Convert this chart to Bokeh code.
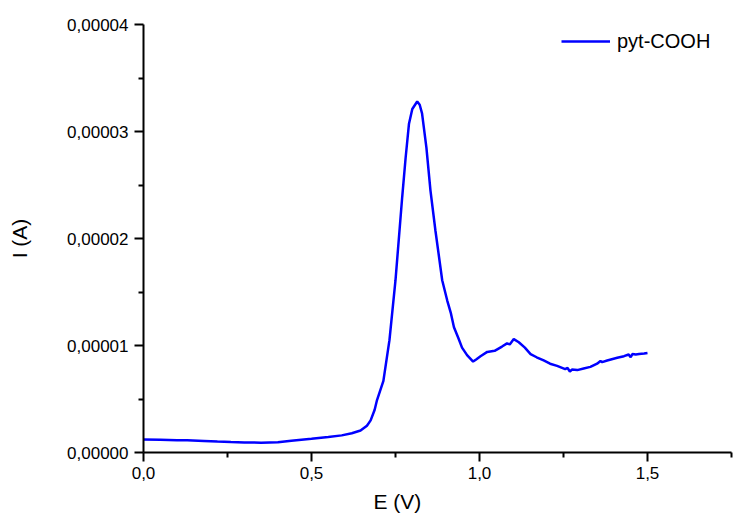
from bokeh.plotting import figure
from bokeh.models import (Range1d, FixedTicker, CustomJSTickFormatter, Legend, LegendItem, Title)
from bokeh.embed import file_html
from bokeh.resources import INLINE

# ---- data ----
E_V = [0.0, 0.05, 0.10, 0.13, 0.18, 0.22, 0.26, 0.30, 0.35, 0.40, 0.44, 0.50, 0.55, 0.59,
       0.62, 0.646, 0.665, 0.676, 0.688, 0.695, 0.714, 0.732, 0.75, 0.76, 0.77, 0.78, 0.79,
       0.80, 0.8146, 0.822, 0.829, 0.842, 0.854, 0.869, 0.889, 0.904, 0.915, 0.924, 0.937,
       0.948, 0.963, 0.972, 0.981, 0.99, 1.003, 1.023, 1.045, 1.067, 1.082, 1.09, 1.102,
       1.117, 1.135, 1.152, 1.17, 1.191, 1.21, 1.231, 1.255, 1.262, 1.269, 1.275, 1.291,
       1.31, 1.33, 1.35, 1.36, 1.365, 1.38, 1.41, 1.43, 1.444, 1.45, 1.455, 1.465, 1.475,
       1.49, 1.5]
I_A = [1.21e-6, 1.18e-6, 1.15e-6, 1.15e-6, 1.08e-6, 1.02e-6, 0.97e-6, 0.93e-6, 0.92e-6,
       0.95e-6, 1.10e-6, 1.28e-6, 1.45e-6, 1.60e-6, 1.80e-6, 2.05e-6, 2.50e-6, 3.00e-6,
       4.00e-6, 4.90e-6, 6.70e-6, 1.05e-5, 1.61e-5, 2.00e-5, 2.39e-5, 2.75e-5, 3.07e-5,
       3.21e-5, 3.28e-5, 3.25e-5, 3.17e-5, 2.85e-5, 2.45e-5, 2.07e-5, 1.61e-5, 1.42e-5,
       1.30e-5, 1.17e-5, 1.07e-5, 0.98e-5, 0.91e-5, 0.88e-5, 0.85e-5, 0.87e-5, 0.90e-5,
       0.94e-5, 0.95e-5, 0.99e-5, 1.02e-5, 1.01e-5, 1.06e-5, 1.03e-5, 0.98e-5, 0.92e-5,
       0.89e-5, 0.86e-5, 0.83e-5, 0.81e-5, 0.78e-5, 0.79e-5, 0.757e-5, 0.775e-5, 0.77e-5,
       0.785e-5, 0.80e-5, 0.83e-5, 0.855e-5, 0.845e-5, 0.86e-5, 0.885e-5, 0.90e-5, 0.916e-5,
       0.89e-5, 0.92e-5, 0.915e-5, 0.92e-5, 0.925e-5, 0.93e-5]

x_ticks = [0.0, 0.5, 1.0, 1.5]
x_minor = [0.25, 0.75, 1.25, 1.75]
y_ticks = [0.0, 1e-5, 2e-5, 3e-5, 4e-5]
y_minor = [0.5e-5, 1.5e-5, 2.5e-5, 3.5e-5]
series_name = "pyt-COOH"
x_title = "E (V)"
y_title = "I (A)"

FONT = "Liberation Sans"

p = figure(width=733, height=522, output_backend="svg", toolbar_location=None,
           x_range=Range1d(0, 1.75), y_range=Range1d(0, 4e-5),
           min_border_left=143, min_border_right=2, min_border_top=24, min_border_bottom=70)
p.outline_line_color = None
p.grid.visible = False
p.background_fill_color = "white"
p.border_fill_color = "white"

r = p.line(E_V, I_A, line_color="#0000FF", line_width=2.5)

p.xaxis.ticker = FixedTicker(ticks=x_ticks, minor_ticks=x_minor)
p.yaxis.ticker = FixedTicker(ticks=y_ticks, minor_ticks=y_minor)
p.xaxis.formatter = CustomJSTickFormatter(code="return tick.toFixed(1).replace('.', ',');")
p.yaxis.formatter = CustomJSTickFormatter(code="return tick.toFixed(5).replace('.', ',');")

for ax in (p.xaxis[0], p.yaxis[0]):
    ax.axis_line_width = 2
    ax.axis_line_color = "black"
    ax.major_tick_line_width = 2
    ax.minor_tick_line_width = 2
    ax.major_tick_line_color = "black"
    ax.minor_tick_line_color = "black"
    ax.major_tick_out = 9
    ax.major_tick_in = 0
    ax.minor_tick_out = 5
    ax.minor_tick_in = 0
    ax.major_label_text_font = FONT
    ax.major_label_text_font_size = "17px"
    ax.major_label_text_color = "black"
    ax.axis_label_text_font = FONT
    ax.axis_label_text_font_size = "21px"
    ax.axis_label_text_font_style = "normal"
    ax.axis_label_text_color = "black"

p.xaxis.major_label_standoff = 5
p.yaxis.major_label_standoff = 6
p.yaxis.axis_label = y_title
p.yaxis.axis_label_standoff = 33

# x-axis title: placed left of the axis centre, as in the reference
p.add_layout(Title(text=x_title, align="left", offset=230, standoff=12,
                   text_font=FONT, text_font_size="21px", text_font_style="normal",
                   text_color="black"), "below")

legend = Legend(items=[LegendItem(label=series_name, renderers=[r])],
                location=(418, 399), glyph_width=49, glyph_height=24,
                label_standoff=7, padding=0, margin=0, spacing=0,
                border_line_color=None, background_fill_alpha=0,
                label_text_font=FONT, label_text_font_size="20px", label_text_color="black")
p.add_layout(legend)

open("out.html", "w").write(file_html(p, INLINE))
